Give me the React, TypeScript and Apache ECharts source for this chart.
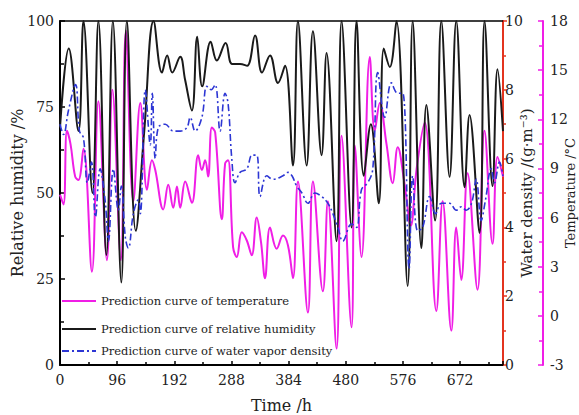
import React, { useEffect, useRef } from "react";
import * as echarts from "echarts";

// Hourly turning points of the three prediction curves (time in hours)
const rhHours = [0, 14.7, 31, 39.4, 54.5, 64.5, 77.9, 88.8, 103, 112.3, 127.3, 141.5, 157.2, 171.2, 180, 188.5, 201.9, 210, 221.5, 230.4, 238.8, 253, 263.4, 278.2, 289, 302.4, 314.2, 327.6, 339.3, 352.7, 366.1, 377.9, 391.3, 399.6, 414.2, 424.8, 439.3, 447.7, 464.5, 472.9, 489.6, 498, 510.2, 522, 535.4, 543.7, 553.8, 565, 583.9, 592.3, 606.9, 615.3, 630, 640.4, 654.3, 665.5, 679.5, 687.8, 704.6, 713, 726.4, 734.8, 744];
const rhValues = [69, 92, 68, 100, 50, 100, 32, 100, 24, 100, 39, 68, 100, 85, 90, 85, 89.6, 83, 74, 95.4, 81, 94, 88.5, 93.6, 87.5, 87.5, 87, 95.8, 85, 90, 82, 87, 58, 100, 58, 97, 61, 90.7, 36, 100, 40, 100, 55, 70, 47, 92, 86.6, 100, 23, 100, 34, 75.6, 42, 100, 54.7, 100, 51.7, 72.7, 38.4, 100, 52, 86, 68];

const vaporHours = [0, 5.9, 14.2, 26, 32.7, 39.4, 46, 52.8, 59.5, 67.4, 75.7, 81.3, 89.6, 98, 103, 109.8, 114.8, 123.2, 131.5, 134.9, 143.3, 151.6, 155, 160, 165, 176.9, 190.2, 202, 213.1, 218.7, 227, 238.3, 246.6, 253.9, 260.6, 268.9, 277.3, 282.3, 288.5, 294, 302.4, 313.7, 322.6, 330.4, 336, 347.2, 357.7, 374.5, 382.9, 389.6, 397.5, 406.3, 416.4, 428.1, 439.3, 449.9, 458.3, 466.7, 475, 489.6, 498, 506.4, 516.9, 525.3, 533.7, 545.4, 556.6, 567.2, 575.6, 586.3, 592.3, 600.7, 609.1, 620.8, 630.9, 640.4, 654.3, 665.5, 673.9, 682.3, 691.2, 699, 707.4, 714.6, 724.2, 729.7, 738.1, 744];
const vaporValues = [7.0, 6.7, 7.4, 8.15, 6.8, 6.6, 5.3, 5.9, 4.3, 5.7, 4.8, 3.6, 5.7, 4.5, 5.2, 3.7, 3.4, 4.4, 4.8, 4.4, 8.0, 6.4, 7.9, 6.0, 6.9, 7.0, 6.8, 6.8, 6.9, 7.2, 6.8, 7.2, 8.1, 8.0, 8.15, 6.8, 7.9, 7.6, 6.0, 5.3, 5.6, 5.7, 6.1, 6.1, 4.9, 5.5, 5.4, 5.5, 5.6, 5.5, 5.2, 5.0, 4.7, 5.0, 4.9, 4.7, 4.4, 4.0, 3.6, 4.1, 4.0, 5.1, 5.3, 5.7, 8.5, 7.2, 8.2, 7.9, 7.9, 2.8, 5.5, 3.9, 4.0, 4.9, 4.4, 4.7, 4.7, 4.5, 4.6, 4.5, 4.7, 5.4, 4.2, 4.8, 5.7, 5.3, 5.9, 5.5];

const tempHours = [0, 5.9, 11.7, 17.6, 25.5, 31, 39.4, 53.6, 64.5, 78.8, 88, 102.2, 110.6, 123.2, 134.9, 146.1, 154.5, 160, 173.4, 181.8, 190.2, 196.4, 201.9, 210.3, 221.5, 232.1, 238.3, 243.8, 248.8, 255, 260.6, 271.8, 277.3, 282.3, 290.7, 296.9, 305.3, 313.7, 322, 330.4, 337.6, 344.3, 352.7, 363.9, 374.5, 382.9, 391.3, 399.6, 416.4, 424.8, 441.5, 449.9, 464.5, 472.9, 489.6, 495.1, 506.4, 520.3, 528.7, 537.1, 548.3, 558.8, 567.2, 578.9, 589, 599, 612.6, 632, 642.6, 657.2, 665.5, 673.9, 684.5, 701.2, 712.9, 726.4, 734.8, 744];
const tempValues = [7.4, 6.8, 11.3, 10.5, 8.5, 8.3, 10.2, 2.7, 13.1, 3.4, 13.8, 3.4, 17.4, 7.0, 13.0, 7.7, 9.5, 8.9, 6.5, 8.0, 6.6, 7.9, 6.6, 8.2, 6.9, 9.8, 8.9, 9.5, 8.5, 11.5, 11.2, 5.9, 9.3, 9.5, 4.2, 3.6, 5.1, 4.6, 3.7, 6.0, 4.5, 2.3, 5.4, 4.1, 4.9, 4.3, 2.3, 8.2, 0.2, 8.2, 1.5, 7.0, -2.0, 11.0, -0.7, 10.4, 3.6, 15.8, 11.3, 13.0, 10.5, 8.1, 10.3, 8.0, 5.5, 9.0, 11.8, 0.3, 7.0, -0.9, 5.4, 2.2, 8.7, 1.6, 11.3, 4.4, 9.7, 8.5];

const timeTicks = { min: 0, max: 744, interval: 96 };

const TEMP = "Prediction curve of temperature";
const RH = "Prediction curve of relative humidity";
const VAPOR = "Prediction curve of water vapor density";

const pairs = (xs: number[], ys: number[]) => xs.map((x, i) => [x, ys[i]]);

const FONT = "DejaVu Serif";
const MAGENTA = "#f01ee6";
const RED = "#e3341f";
const BLUE = "#2d36d4";
const TEXT = "#222";

export default function App() {
  const ref = useRef<HTMLDivElement>(null);

  useEffect(() => {
    if (!ref.current) return;
    const chart = echarts.init(ref.current, null, { renderer: "svg" });

    // One legend per entry so each row sits at its own height
    const legendBase = {
      orient: "horizontal" as const,
      left: 56,
      itemWidth: 34,
      itemHeight: 2,
      itemGap: 4,
      textStyle: { fontFamily: FONT, fontSize: 11.5, color: TEXT },
      selectedMode: false,
    };

    chart.setOption({
      animation: false,
      textStyle: { fontFamily: FONT },
      grid: { left: 60, right: 76, top: 21, bottom: 50, outerBoundsMode: "none", containLabel: false },
      legend: [
        { ...legendBase, top: 290, data: [TEMP] },
        { ...legendBase, top: 318, data: [RH] },
        { ...legendBase, top: 340, data: [VAPOR] },
      ],
      xAxis: [
        {
          type: "value",
          min: timeTicks.min,
          max: timeTicks.max,
          interval: timeTicks.interval,
          name: "Time /h",
          nameLocation: "middle",
          nameGap: 32,
          nameMoveOverlap: false,
          nameTextStyle: { fontFamily: FONT, fontSize: 16, color: TEXT },
          axisLine: { show: true, onZero: false, lineStyle: { color: "#000", width: 2 } },
          axisTick: { show: true, inside: true, length: 4, lineStyle: { color: "#000", width: 1.5 } },
          minorTick: { show: true, splitNumber: 2, length: 3, lineStyle: { color: "#000", width: 1.5 } },
          axisLabel: { fontFamily: FONT, fontSize: 14, color: TEXT, margin: 8, showMaxLabel: false },
          splitLine: { show: false },
        },
        {
          type: "value",
          position: "top",
          min: timeTicks.min,
          max: timeTicks.max,
          axisLine: { show: true, onZero: false, lineStyle: { color: "#000", width: 1.5 } },
          axisTick: { show: false },
          axisLabel: { show: false },
          splitLine: { show: false },
        },
      ],
      yAxis: [
        {
          type: "value",
          min: 0,
          max: 100,
          interval: 25,
          position: "left",
          name: "Relative humidity /%",
          nameLocation: "middle",
          nameGap: 35,
          nameMoveOverlap: false,
          nameTextStyle: { fontFamily: FONT, fontSize: 16, color: TEXT },
          axisLine: { show: true, onZero: false, lineStyle: { color: "#000", width: 2 } },
          axisTick: { show: true, inside: true, length: 5, lineStyle: { color: "#000", width: 1.5 } },
          minorTick: { show: true, splitNumber: 2, length: 4, lineStyle: { color: "#000", width: 1.5 } },
          axisLabel: { fontFamily: FONT, fontSize: 14, color: TEXT, margin: 6 },
          splitLine: { show: false },
        },
        {
          type: "value",
          min: 0,
          max: 10,
          interval: 2,
          position: "right",
          name: "Water density /(g·m⁻³)",
          nameLocation: "middle",
          nameGap: 16,
          nameMoveOverlap: false,
          nameTextStyle: { fontFamily: FONT, fontSize: 15, color: TEXT },
          axisLine: { show: true, onZero: false, lineStyle: { color: RED, width: 2 } },
          axisTick: { show: true, inside: false, length: 4, lineStyle: { color: RED, width: 1.5 } },
          minorTick: { show: true, splitNumber: 2, length: 3, lineStyle: { color: RED, width: 1.5 } },
          axisLabel: { fontFamily: FONT, fontSize: 14, color: TEXT, margin: 2 },
          splitLine: { show: false },
        },
        {
          type: "value",
          min: -3,
          max: 18,
          interval: 3,
          position: "right",
          offset: 40,
          name: "Temperature /°C",
          nameLocation: "middle",
          nameGap: 21,
          nameMoveOverlap: false,
          nameTextStyle: { fontFamily: FONT, fontSize: 13, color: TEXT },
          axisLine: { show: true, onZero: false, lineStyle: { color: MAGENTA, width: 2 } },
          axisTick: { show: true, inside: true, length: 5, lineStyle: { color: MAGENTA, width: 1.5 } },
          minorTick: { show: true, splitNumber: 2, length: 4, lineStyle: { color: MAGENTA, width: 1.5 } },
          axisLabel: { fontFamily: FONT, fontSize: 14, color: TEXT, margin: 7 },
          splitLine: { show: false },
        },
      ],
      series: [
        {
          name: TEMP,
          type: "line",
          yAxisIndex: 2,
          data: pairs(tempHours, tempValues),
          smooth: 0.4,
          symbol: "none",
          lineStyle: { color: MAGENTA, width: 2 },
          itemStyle: { color: MAGENTA },
          z: 2,
        },
        {
          name: RH,
          type: "line",
          yAxisIndex: 0,
          data: pairs(rhHours, rhValues),
          smooth: 0.4,
          symbol: "none",
          lineStyle: { color: "#1a1a1a", width: 2 },
          itemStyle: { color: "#1a1a1a" },
          z: 3,
        },
        {
          name: VAPOR,
          type: "line",
          yAxisIndex: 1,
          data: pairs(vaporHours, vaporValues),
          smooth: 0.4,
          symbol: "none",
          lineStyle: { color: BLUE, width: 1.6, type: [7, 3, 2, 3] },
          itemStyle: { color: BLUE },
          z: 4,
        },
      ],
    });

    return () => chart.dispose();
  }, []);

  return <div ref={ref} style={{ width: 579, height: 415, position: "absolute", left: 0, top: 0 }} />;
}
